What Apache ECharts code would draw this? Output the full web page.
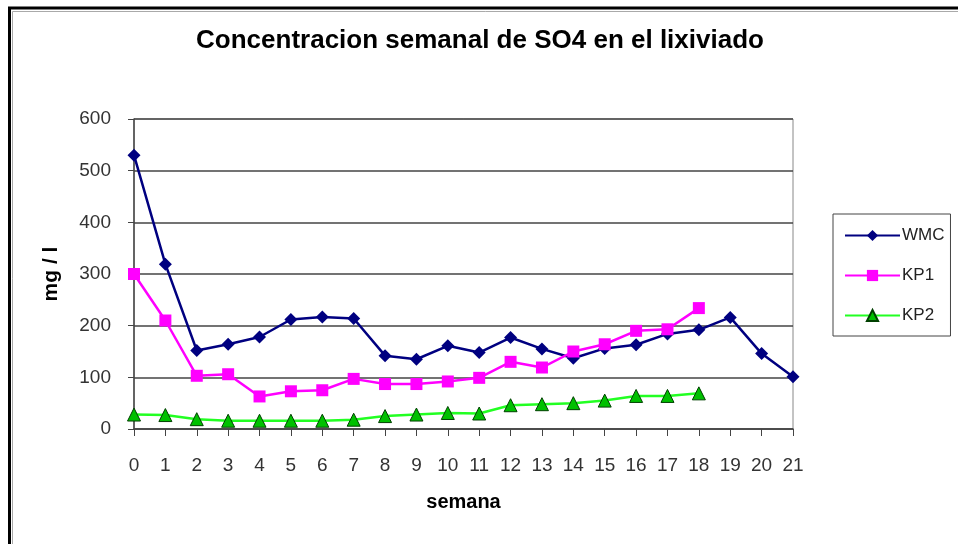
<!DOCTYPE html>
<html>
<head>
<meta charset="utf-8">
<script src="https://cdn.jsdelivr.net/npm/echarts@6/dist/echarts.min.js"></script>
<style>html,body{margin:0;padding:0;background:#fff}#c{width:958px;height:544px}</style>
</head>
<body>
<div id="c"></div>
<script>
const weeks = ['0','1','2','3','4','5','6','7','8','9','10','11','12','13','14','15','16','17','18','19','20','21'];
const wmc = [530, 319, 152, 164, 178, 212, 217, 214, 142, 135, 161, 148, 177, 155, 137, 156, 163, 184, 192, 216, 146, 101];
const kp1 = [300, 210, 103, 106, 63, 73, 75, 97, 87, 87, 92, 99, 130, 119, 150, 164, 190, 193, 234];
const kp2 = [28, 27, 19, 16, 16, 16, 16, 18, 25, 28, 31, 30, 46, 48, 50, 55, 64, 64, 69];
const yTicks = [0, 100, 200, 300, 400, 500, 600];

const FONT = '"Liberation Sans", Arial, sans-serif';
const chart = echarts.init(document.getElementById('c'), null, {renderer: 'canvas'});
chart.setOption({
  backgroundColor: '#fff',
  animation: false,
  title: {
    text: 'Concentracion semanal de SO4 en el lixiviado',
    left: 475, top: 23, textAlign: 'center',
    textStyle: {fontFamily: FONT, fontSize: 26, fontWeight: 'bold', color: '#000'}
  },
  graphic: [
    {type: 'rect', shape: {x: 9.5, y: 8, width: 1200, height: 1200}, style: {fill: 'none', stroke: '#000', lineWidth: 3}, silent: true},
    {type: 'rect', shape: {x: 12.5, y: 11.5, width: 1200, height: 1200}, style: {fill: 'none', stroke: '#aaa', lineWidth: 1}, silent: true}
  ],
  legend: {
    orient: 'vertical',
    left: 833, top: 214,
    padding: [13, 6, 12, 11],
    itemWidth: 55, itemHeight: 14, itemGap: 23,
    borderColor: '#444', borderWidth: 1,
    textStyle: {fontFamily: FONT, fontSize: 17, color: '#222', padding: [0, 0, 0, -3]},
    data: ['WMC', 'KP1', 'KP2']
  },
  grid: {left: 134, right: 165, top: 119, bottom: 115, show: true, borderColor: '#888', borderWidth: 1, backgroundColor: '#fff'},
  xAxis: {
    type: 'category', data: weeks, boundaryGap: false,
    name: 'semana', nameLocation: 'middle', nameGap: 63,
    nameTextStyle: {fontFamily: FONT, fontSize: 20, fontWeight: 'bold', color: '#000'},
    axisLine: {lineStyle: {color: '#444', width: 1.5}},
    axisTick: {show: true, inside: false, length: 7, lineStyle: {color: '#444'}, alignWithLabel: true},
    axisLabel: {fontFamily: FONT, fontSize: 19, color: '#333', margin: 27, interval: 0},
    splitLine: {show: false}
  },
  yAxis: {
    type: 'value', min: 0, max: 600, interval: 100,
    name: 'mg / l', nameLocation: 'middle', nameGap: 72, nameRotate: 90,
    nameTextStyle: {fontFamily: FONT, fontSize: 21, fontWeight: 'bold', color: '#000'},
    axisLine: {show: true, lineStyle: {color: '#444', width: 1.5}},
    axisTick: {show: true, length: 6, lineStyle: {color: '#444'}},
    axisLabel: {fontFamily: FONT, fontSize: 19, color: '#333', margin: 23,
      formatter: v => yTicks.includes(v) ? String(v) : ''},
    splitLine: {show: true, lineStyle: {color: '#444', width: 1.5}}
  },
  series: [
    {name: 'WMC', type: 'line', data: wmc, symbol: 'diamond', symbolSize: 13,
      lineStyle: {color: '#000080', width: 2.5}, itemStyle: {color: '#000080'}},
    {name: 'KP1', type: 'line', data: kp1, symbol: 'rect', symbolSize: 12,
      lineStyle: {color: '#ff00ff', width: 2.5}, itemStyle: {color: '#ff00ff'}},
    {name: 'KP2', type: 'line', data: kp2, symbol: 'triangle', symbolSize: 13,
      lineStyle: {color: '#22ff22', width: 2.5}, itemStyle: {color: '#00c000', borderColor: '#004000', borderWidth: 1}}
  ]
});
</script>
</body>
</html>
